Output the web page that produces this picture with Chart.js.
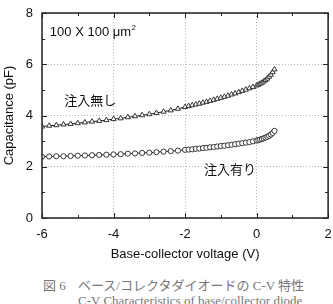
<!DOCTYPE html>
<html>
<head>
<meta charset="utf-8">
<script src="https://cdn.jsdelivr.net/npm/chart.js@4"></script>
<style>
  body { margin: 0; background: #fff; width: 333px; height: 304px; overflow: hidden; position: relative; }
  #wrap { position: absolute; left: 0; top: 0; width: 333px; height: 262px; }
  .cap { position: absolute; font-family: "Liberation Serif", "Noto Sans CJK JP", serif; font-size: 13px; color: #777; white-space: nowrap; }
</style>
</head>
<body>
<div id="wrap"><canvas id="cv"></canvas></div>
<div class="cap" style="left:43px; top:275px;">図 6</div>
<div class="cap" style="left:78px; top:275px;">ベース/コレクタダイオードの C-V 特性</div>
<div class="cap" style="left:78px; top:293px;">C-V Characteristics of base/collector diode</div>
<script>
'use strict';

let voltages = [
  -6.0, -5.8, -5.6, -5.4, -5.2, -5.0, -4.8, -4.6, -4.4, -4.2,
  -4.0, -3.8, -3.6, -3.4, -3.2, -3.0, -2.8, -2.6, -2.4, -2.2,
  -2.0, -1.9, -1.8, -1.7, -1.6, -1.5, -1.4, -1.3, -1.2, -1.1,
  -1.0, -0.9, -0.8, -0.7, -0.6, -0.5, -0.4, -0.3, -0.2, -0.1,
  0.0, 0.05, 0.1, 0.15, 0.2, 0.25, 0.3, 0.35, 0.4, 0.45, 0.5
];
let capNoInjection = [
  3.57, 3.60, 3.62, 3.65, 3.67, 3.70, 3.73, 3.76, 3.79, 3.82,
  3.86, 3.89, 3.93, 3.97, 4.01, 4.05, 4.10, 4.15, 4.20, 4.26,
  4.33, 4.37, 4.40, 4.43, 4.46, 4.50, 4.53, 4.57, 4.61, 4.65,
  4.69, 4.73, 4.77, 4.82, 4.86, 4.91, 4.96, 5.01, 5.06, 5.11,
  5.17, 5.20, 5.24, 5.28, 5.33, 5.38, 5.44, 5.51, 5.59, 5.69, 5.80
];
let capInjection = [
  2.39, 2.40, 2.41, 2.41, 2.42, 2.43, 2.44, 2.45, 2.46, 2.47,
  2.48, 2.49, 2.51, 2.52, 2.54, 2.55, 2.57, 2.59, 2.61, 2.63,
  2.66, 2.67, 2.68, 2.70, 2.71, 2.73, 2.74, 2.76, 2.77, 2.79,
  2.81, 2.82, 2.84, 2.86, 2.88, 2.90, 2.92, 2.94, 2.96, 2.99,
  3.02, 3.04, 3.06, 3.08, 3.11, 3.14, 3.17, 3.21, 3.26, 3.32, 3.40
];
let xTicks = [-6, -4, -2, 0, 2];
let xMinorTicks = [-5, -3, -1, 1];
let yTicks = [0, 2, 4, 6, 8];
let yMinorTicks = [1, 3, 5, 7];
let labels = [
  { text: '100 X 100 μm', x: -5.78, y: 7.23, sup: '2' },
  { text: '注入無し', x: -5.38, y: 4.6 },
  { text: '注入有り', x: -1.47, y: 1.9 }
];

function toPoints(ys) {
  let pts = [];
  for (let i = 0; i < voltages.length; i++) {
    pts.push({ x: voltages[i], y: ys[i] });
  }
  return pts;
}

const latin = '"Liberation Sans", Arial, sans-serif';

let framePlugin = {
  id: 'frame',
  afterDatasetsDraw(chart) {
    let ctx = chart.ctx;
    let a = chart.chartArea;
    let xs = chart.scales.x;
    let ys = chart.scales.y;
    ctx.save();
    ctx.strokeStyle = '#222';
    ctx.lineWidth = 1.5;
    ctx.strokeRect(a.left, a.top, a.right - a.left, a.bottom - a.top);
    ctx.lineWidth = 1;
    function tickX(v, len) {
      let p = Math.round(xs.getPixelForValue(v)) + 0.5;
      ctx.beginPath();
      ctx.moveTo(p, a.bottom); ctx.lineTo(p, a.bottom - len);
      ctx.moveTo(p, a.top); ctx.lineTo(p, a.top + len);
      ctx.stroke();
    }
    function tickY(v, len) {
      let p = Math.round(ys.getPixelForValue(v)) + 0.5;
      ctx.beginPath();
      ctx.moveTo(a.left, p); ctx.lineTo(a.left + len, p);
      ctx.moveTo(a.right, p); ctx.lineTo(a.right - len, p);
      ctx.stroke();
    }
    xTicks.forEach(v => tickX(v, 5));
    xMinorTicks.forEach(v => tickX(v, 3));
    yTicks.forEach(v => tickY(v, 5));
    yMinorTicks.forEach(v => tickY(v, 3));

    ctx.fillStyle = '#111';
    ctx.textBaseline = 'middle';
    ctx.textAlign = 'left';
    labels.forEach(l => {
      let px = xs.getPixelForValue(l.x);
      let py = ys.getPixelForValue(l.y);
      if (l.sup) {
        ctx.font = '13px ' + latin;
        ctx.fillText(l.text, px, py);
        let w = ctx.measureText(l.text).width;
        ctx.font = '8px ' + latin;
        ctx.fillText(l.sup, px + w + 0.5, py - 5);
      } else {
        ctx.font = '13px "Noto Sans CJK JP", sans-serif';
        ctx.fillText(l.text, px, py);
      }
    });
    ctx.restore();
  }
};

let chartConfig = {
  type: 'scatter',
  data: {
    datasets: [
      {
        label: '注入無し',
        data: toPoints(capNoInjection),
        showLine: true,
        borderColor: '#222',
        borderWidth: 1,
        pointStyle: 'triangle',
        pointRadius: 3,
        pointBorderWidth: 0.9,
        pointBackgroundColor: '#fff',
        pointBorderColor: '#222'
      },
      {
        label: '注入有り',
        data: toPoints(capInjection),
        showLine: true,
        borderColor: '#222',
        borderWidth: 1,
        pointStyle: 'circle',
        pointRadius: 2.6,
        pointBorderWidth: 0.9,
        pointBackgroundColor: '#fff',
        pointBorderColor: '#222'
      }
    ]
  },
  options: {
    responsive: false,
    animation: false,
    devicePixelRatio: 1,
    layout: { padding: { left: 0, right: 4, top: 13, bottom: 0 } },
    plugins: {
      legend: { display: false },
      tooltip: { enabled: false }
    },
    scales: {
      x: {
        type: 'linear',
        min: -6,
        max: 2,
        afterBuildTicks: (s) => { s.ticks = xTicks.map(v => ({ value: v })); },
        afterFit: (s) => { s.height = 44; s.paddingLeft = 0; s.paddingRight = 0; },
        grid: { color: '#b5b5b5', lineWidth: 1, drawTicks: false },
        border: { display: false, dash: [1, 2] },
        ticks: { color: '#111', padding: 9, font: { family: latin, size: 13 } },
        title: { display: true, text: 'Base-collector voltage (V)', color: '#111', padding: { top: 2, bottom: 0 }, font: { family: latin, size: 13 } }
      },
      y: {
        type: 'linear',
        min: 0,
        max: 8,
        afterBuildTicks: (s) => { s.ticks = yTicks.map(v => ({ value: v })); },
        afterFit: (s) => { s.width = 42; s.paddingTop = 0; s.paddingBottom = 0; },
        grid: { color: '#b5b5b5', lineWidth: 1, drawTicks: false },
        border: { display: false, dash: [1, 2] },
        ticks: { color: '#111', padding: 9, font: { family: latin, size: 13 } },
        title: { display: true, text: 'Capacitance (pF)', color: '#111', padding: { top: 2, bottom: 4 }, font: { family: latin, size: 13 } }
      }
    }
  },
  plugins: [framePlugin]
};

let canvas = document.getElementById('cv');
canvas.width = 333;
canvas.height = 262;
canvas.style.width = '333px';
canvas.style.height = '262px';
let chart = new Chart(canvas, chartConfig);
</script>
</body>
</html>
